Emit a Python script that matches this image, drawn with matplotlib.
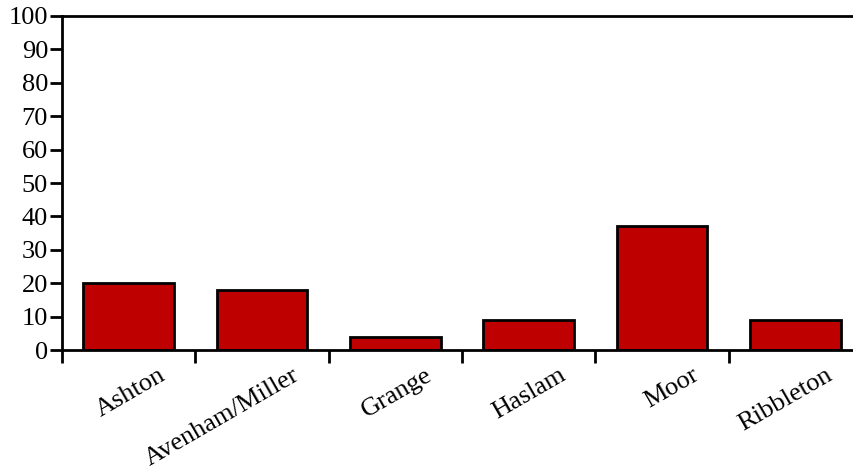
import numpy as np
import matplotlib.pyplot as plt
import matplotlib.transforms as mtransforms

wards = ["Ashton", "Avenham/Miller", "Grange", "Haslam", "Moor", "Ribbleton"]
values = [20, 18, 4, 9, 37, 9]

plt.rcParams["font.family"] = ["Liberation Serif", "DejaVu Serif"]

fig = plt.figure(figsize=(8.54, 4.73), dpi=100)
# the plot area runs a little past the right edge of the picture
ax = fig.add_axes([62 / 854, 123 / 473, 800 / 854, 334 / 473])

x = np.arange(len(wards))
ax.bar(x, values, width=0.68, color="#BF0000", edgecolor="black", linewidth=2)

ax.set_xlim(-0.5, len(wards) - 0.5)
ax.set_ylim(0, 100)
ax.set_yticks(np.arange(0, 101, 10))
ax.tick_params(axis="y", direction="out", length=9, width=2, labelsize=19, pad=1)

# ticks between categories, labels at category centres
ax.set_xticks(np.arange(-0.5, len(wards), 1.0))
ax.set_xticklabels([])
ax.set_xticks(x, minor=True)
ax.set_xticklabels(wards, minor=True, rotation=30, ha="right", va="top",
                   rotation_mode="anchor", fontsize=19)
ax.tick_params(axis="x", which="major", direction="out", length=9, width=2)
ax.tick_params(axis="x", which="minor", length=0, pad=10)
offset = mtransforms.ScaledTranslation(30 / 100, 0, fig.dpi_scale_trans)
for lab in ax.get_xticklabels(minor=True):
    lab.set_transform(lab.get_transform() + offset)

for side in ["left", "bottom", "top"]:
    ax.spines[side].set_linewidth(2)
ax.spines["right"].set_visible(False)

fig.savefig("out.png", dpi=100)
